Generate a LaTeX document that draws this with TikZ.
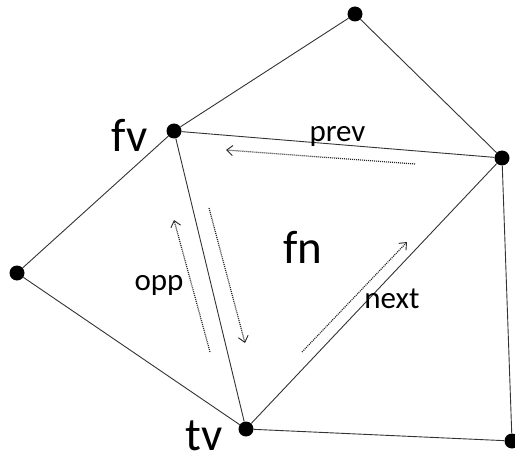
\documentclass[tikz,border=0pt]{standalone}
\usepackage{fontspec}
\setmainfont{Carlito}
\usetikzlibrary{arrows.meta}
\begin{document}
\begin{tikzpicture}[x=1pt,y=1pt,
  vtx/.style={circle,fill=black,inner sep=0pt,minimum size=15pt},
  edge/.style={draw=black!80,line width=0.9pt},
  half/.style={draw=black!85,line width=1.2pt,dash pattern=on 1pt off 1pt,-{Straight Barb[length=6pt,width=10pt,line width=0.9pt]}},
  big/.style={font=\fontsize{47}{47}\selectfont,anchor=base,inner sep=0pt},
  small/.style={font=\fontsize{31}{31}\selectfont,anchor=base,inner sep=0pt}]
\useasboundingbox (0,0) rectangle (515,459);
\node[vtx] (T) at (355,445) {};
\node[vtx] (V) at (174,328) {};
\node[vtx] (R) at (502,301) {};
\node[vtx] (L) at (17,186) {};
\node[vtx] (W) at (246,30) {};
\node[vtx] (B) at (512,18) {};
\draw[edge] (T) -- (V);
\draw[edge] (T) -- (R);
\draw[edge] (V) -- (R);
\draw[edge] (V) -- (L);
\draw[edge] (V) -- (W);
\draw[edge] (L) -- (W);
\draw[edge] (W) -- (R);
\draw[edge] (R) -- (B);
\draw[edge] (W) -- (B);
\coordinate (p1) at (415,295);
\coordinate (p2) at (226,309);
\coordinate (o1) at (210,107);
\coordinate (o2) at (174,239);
\coordinate (d1) at (209,251);
\coordinate (d2) at (245,116);
\coordinate (n1) at (302,107);
\coordinate (n2) at (407,217);
\draw[half] (p1) -- (p2);
\draw[half] (o1) -- (o2);
\draw[half] (d1) -- (d2);
\draw[half] (n1) -- (n2);
\node[big] (lfv) at (129.5,307) {fv};
\node[big] (ltv) at (204,9) {tv};
\node[big] (lfn) at (303,196) {fn};
\node[small] (lprev) at (337.5,317) {prev};
\node[small] (lopp) at (159,169) {opp};
\node[small] (lnext) at (392,151) {next};
\end{tikzpicture}
\end{document}
